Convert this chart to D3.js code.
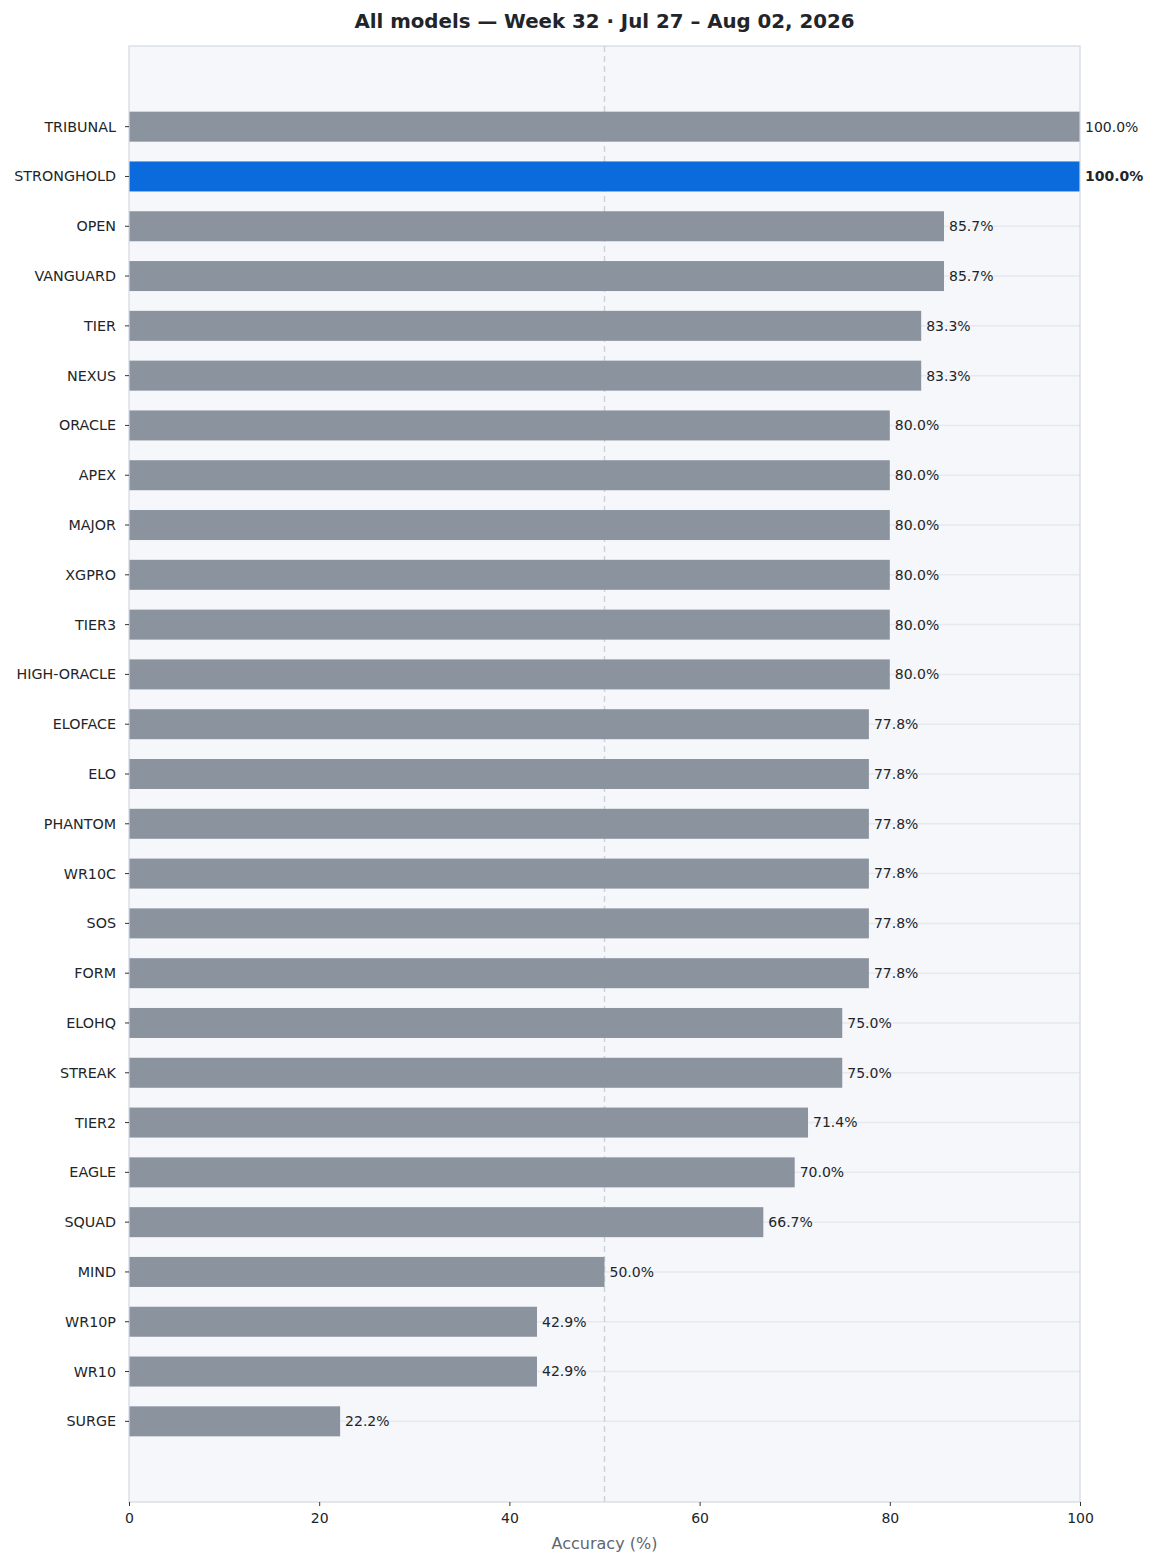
<!DOCTYPE html>
<html>
<head>
<meta charset="utf-8">
<script src="https://cdn.jsdelivr.net/npm/d3@7"></script>
<style>
  body { margin: 0; background: #fff; font-family: "DejaVu Sans", sans-serif; }
</style>
</head>
<body>
<div id="chart"></div>
<script>
const models = ["TRIBUNAL", "STRONGHOLD", "OPEN", "VANGUARD", "TIER", "NEXUS", "ORACLE", "APEX",
  "MAJOR", "XGPRO", "TIER3", "HIGH-ORACLE", "ELOFACE", "ELO", "PHANTOM", "WR10C", "SOS", "FORM",
  "ELOHQ", "STREAK", "TIER2", "EAGLE", "SQUAD", "MIND", "WR10P", "WR10", "SURGE"];
const accuracy = [100.0, 100.0, 85.7, 85.7, 83.3, 83.3, 80.0, 80.0,
  80.0, 80.0, 80.0, 80.0, 77.8, 77.8, 77.8, 77.8, 77.8, 77.8,
  75.0, 75.0, 71.4, 70.0, 66.7, 50.0, 42.9, 42.9, 22.2];
const highlighted = ["STRONGHOLD"];
const xTicks = [0, 20, 40, 60, 80, 100];
const refLine = 50;

const W = 1158, H = 1565;
const plot = { left: 129, right: 1080, top: 46, bottom: 1502 };

const svg = d3.select("#chart").append("svg")
    .attr("width", W)
    .attr("height", H)
    .style("font-family", "'DejaVu Sans', sans-serif");

// Title
svg.append("text")
    .attr("x", (plot.left + plot.right) / 2)
    .attr("y", 28)
    .attr("text-anchor", "middle")
    .style("font-size", "19.8px")
    .style("font-weight", "bold")
    .attr("fill", "#212529")
    .text("All models \u2014 Week 32 \u00b7 Jul 27 \u2013 Aug 02, 2026");

const x = d3.scaleLinear().domain([0, 100]).range([plot.left, plot.right]);
const y = d3.scaleLinear().domain([-1.62, models.length - 1 + 1.62]).range([plot.top, plot.bottom]);
const barH = 30;

// Plot background
svg.append("rect")
    .attr("x", plot.left).attr("y", plot.top)
    .attr("width", plot.right - plot.left).attr("height", plot.bottom - plot.top)
    .attr("fill", "#f5f7fa");

// Horizontal gridlines
svg.append("g").selectAll("line")
    .data(models)
    .enter().append("line")
    .attr("x1", plot.left).attr("x2", plot.right)
    .attr("y1", (d, i) => y(i)).attr("y2", (d, i) => y(i))
    .attr("stroke", "#e6e9f0")
    .attr("stroke-width", 1.5);

// Reference line at 50%
svg.append("line")
    .attr("x1", x(refLine)).attr("x2", x(refLine))
    .attr("y1", plot.top).attr("y2", plot.bottom)
    .attr("stroke", "#cdd3da")
    .attr("stroke-width", 1.5)
    .attr("stroke-dasharray", "6,4");

// Bars
svg.append("g").selectAll("rect")
    .data(models)
    .enter().append("rect")
    .attr("x", x(0))
    .attr("y", (d, i) => y(i) - barH / 2)
    .attr("width", (d, i) => x(accuracy[i]) - x(0))
    .attr("height", barH)
    .attr("fill", d => highlighted.includes(d) ? "#0b6bdd" : "#8b939e");

// Value labels
svg.append("g").selectAll("text")
    .data(models)
    .enter().append("text")
    .attr("x", (d, i) => x(accuracy[i]) + 5)
    .attr("y", (d, i) => y(i))
    .attr("dy", "0.35em")
    .style("font-size", "14px")
    .style("font-weight", d => highlighted.includes(d) ? "bold" : "normal")
    .attr("fill", "#212529")
    .text((d, i) => accuracy[i].toFixed(1) + "%");

// Frame
svg.append("rect")
    .attr("x", plot.left).attr("y", plot.top)
    .attr("width", plot.right - plot.left).attr("height", plot.bottom - plot.top)
    .attr("fill", "none")
    .attr("stroke", "#d2d8e2")
    .attr("stroke-width", 1.2);

// Y axis (category labels)
const yAxis = svg.append("g");
models.forEach((m, i) => {
    yAxis.append("line")
        .attr("x1", plot.left - 4).attr("x2", plot.left)
        .attr("y1", y(i)).attr("y2", y(i))
        .attr("stroke", "#333").attr("stroke-width", 1);
    yAxis.append("text")
        .attr("x", plot.left - 13)
        .attr("y", y(i))
        .attr("dy", "0.35em")
        .attr("text-anchor", "end")
        .style("font-size", "14.3px")
        .attr("fill", "#212529")
        .text(m);
});

// X axis
const xAxis = svg.append("g")
    .attr("transform", `translate(0,${plot.bottom})`)
    .call(d3.axisBottom(x).tickValues(xTicks).tickSize(4).tickPadding(7).tickFormat(d3.format("d")));
xAxis.select(".domain").remove();
xAxis.selectAll("text")
    .style("font-size", "14px")
    .style("font-family", "'DejaVu Sans', sans-serif")
    .attr("fill", "#212529");
xAxis.selectAll("line").attr("stroke", "#333");

// X axis label
svg.append("text")
    .attr("x", (plot.left + plot.right) / 2)
    .attr("y", 1549)
    .attr("text-anchor", "middle")
    .style("font-size", "16px")
    .attr("fill", "#5f6670")
    .text("Accuracy (%)");
</script>
</body>
</html>
